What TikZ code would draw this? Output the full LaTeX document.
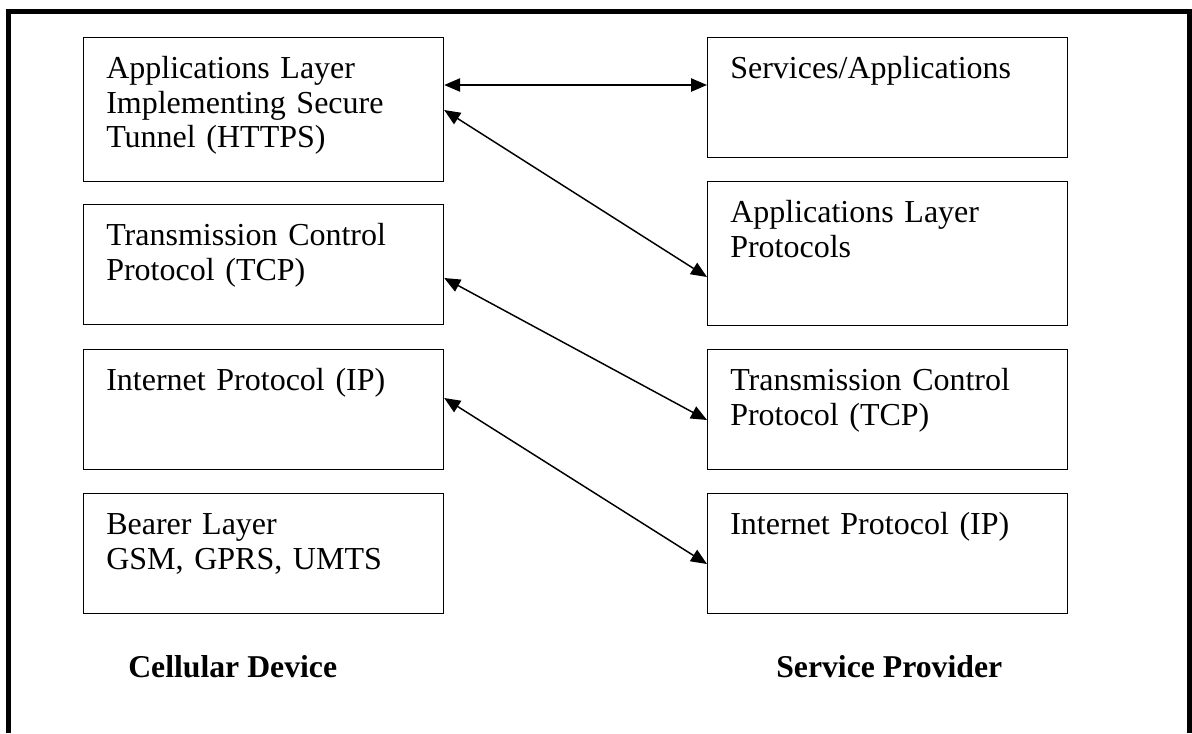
\documentclass[tikz,border=0pt]{standalone}
\usepackage{fontspec}
\setmainfont{Liberation Serif}
\usetikzlibrary{arrows.meta}

\tikzset{
  layer/.style={draw, line width=0.9pt, anchor=north west, align=left,
    text width=236pt, inner xsep=17pt, inner ysep=0pt,
    text height=30.75pt, text depth=59.25pt,
    font=\fontsize{24}{26}\selectfont},
  tallbox/.style={text depth=77.25pt},
  side/.style={anchor=base west, inner sep=0pt,
    font=\fontsize{23.8}{26}\selectfont\bfseries},
  link/.style={<->, line width=1.1pt}
}

\begin{document}
\begin{tikzpicture}[x=0.75pt,y=0.75pt,yscale=-1,xscale=1,
  >={Triangle[length=12pt,width=10pt]}]
\useasboundingbox (0,0) rectangle (1192,733);
\draw[line width=3.75pt] (8.5,733) -- (8.5,11) -- (1189.5,11) -- (1189.5,733);
% Cellular device stack
\node[layer, tallbox] (L1) at (83,37) {Applications Layer\\Implementing Secure\\Tunnel (HTTPS)};
\node[layer] (L2) at (83,204) {Transmission Control\\Protocol (TCP)};
\node[layer] (L3) at (83,349) {Internet Protocol (IP)};
\node[layer] (L4) at (83,493) {Bearer Layer\\GSM, GPRS, UMTS};
% Service provider stack
\node[layer] (R1) at (707,37) {Services/Applications};
\node[layer, tallbox] (R2) at (707,181) {Applications Layer\\Protocols};
\node[layer] (R3) at (707,349) {Transmission Control\\Protocol (TCP)};
\node[layer] (R4) at (707,493) {Internet Protocol (IP)};
% Text Node
\node[side] (dev) at (128,677) {Cellular Device};
% Text Node
\node[side] (prov) at (776,677) {Service Provider};
\draw[link] ([yshift=36pt]L1.north east) -- ([yshift=36pt]R1.north west);
\draw[link] ([yshift=54.75pt]L1.north east) -- ([yshift=72pt]R2.north west);
\draw[link] ([yshift=55.5pt]L2.north east) -- ([yshift=53.25pt]R3.north west);
\draw[link] ([yshift=36.75pt]L3.north east) -- ([yshift=53.25pt]R4.north west);
\end{tikzpicture}
\end{document}
